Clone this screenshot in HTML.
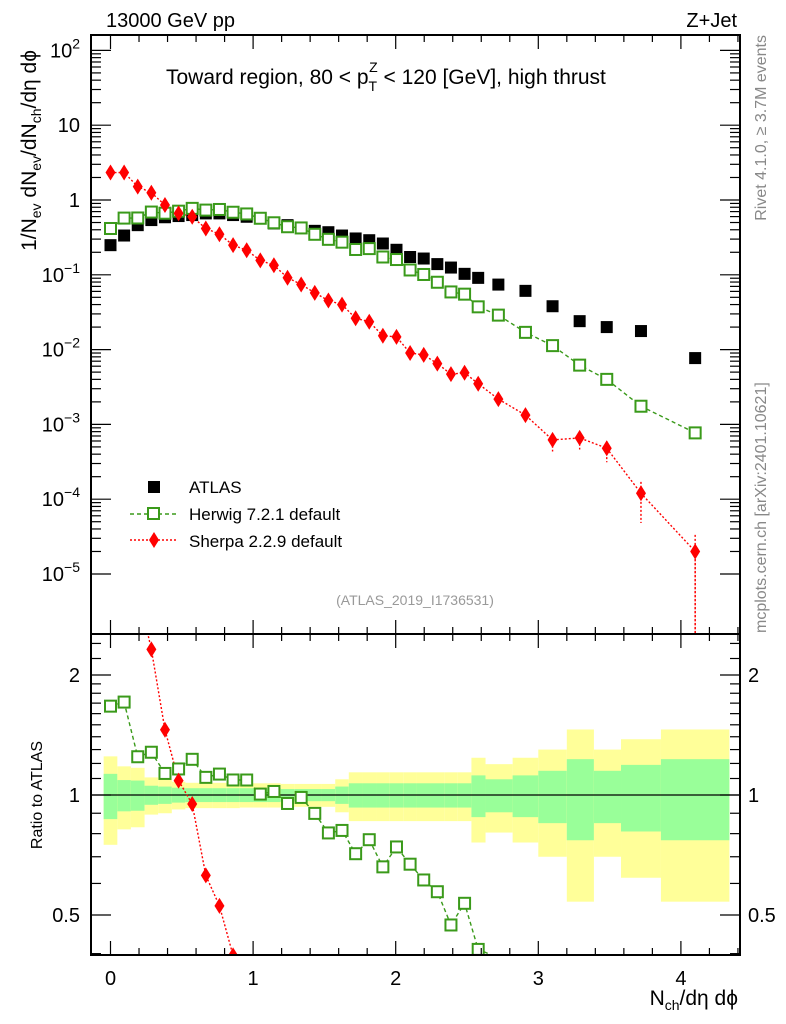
<!DOCTYPE html>
<html><head><meta charset="utf-8"><style>
html,body{margin:0;padding:0;background:#fff;width:786px;height:1024px;overflow:hidden;}
svg{display:block;font-family:"Liberation Sans",sans-serif;}
</style></head><body>
<svg id="chart" width="786" height="1024" viewBox="0 0 786 1024" xmlns="http://www.w3.org/2000/svg">
<rect width="786" height="1024" fill="#fff"/>
<g id="bands"></g>
<g id="grid"></g>
<g id="series"></g>
<g id="axes"></g>
<text x="106" y="27" font-size="20">13000 GeV pp</text>
<text x="737" y="27" font-size="20" text-anchor="end">Z+Jet</text>
<text x="166" y="84" font-size="21">Toward region, 80 &lt; p<tspan font-size="14" dy="7">T</tspan><tspan font-size="14" dx="-8" dy="-19">Z</tspan><tspan dy="12"> &lt; 120 [GeV], high thrust</tspan></text>
<text transform="translate(36,50) rotate(-90)" font-size="21" text-anchor="end">1/N<tspan font-size="14" dy="5">ev</tspan><tspan dy="-5"> dN</tspan><tspan font-size="14" dy="5">ev</tspan><tspan dy="-5">/dN</tspan><tspan font-size="14" dy="5">ch</tspan><tspan dy="-5">/dη dϕ</tspan></text>
<text transform="translate(42,795) rotate(-90)" font-size="16" text-anchor="middle">Ratio to ATLAS</text>
<text x="738" y="1005" font-size="21" text-anchor="end">N<tspan font-size="14" dy="5">ch</tspan><tspan dy="-5">/dη dϕ</tspan></text>
<text transform="translate(766,35) rotate(-90)" font-size="16" fill="#888" text-anchor="end">Rivet 4.1.0, ≥ 3.7M events</text>
<text transform="translate(766,633) rotate(-90)" font-size="16" fill="#888">mcplots.cern.ch [arXiv:2401.10621]</text>
<text x="415" y="605" font-size="14" fill="#999" text-anchor="middle">(ATLAS_2019_I1736531)</text>
<g>
<rect x="148" y="481" width="12" height="12" fill="#000"/>
<text x="189" y="493" font-size="17">ATLAS</text>
<line x1="130" y1="514" x2="177" y2="514" stroke="#3a9a1a" stroke-width="1.5" stroke-dasharray="4,3"/>
<rect x="148" y="508" width="11" height="11" fill="#fff" stroke="#3a9a1a" stroke-width="2"/>
<text x="189" y="520" font-size="17">Herwig 7.2.1 default</text>
<line x1="130" y1="540" x2="177" y2="540" stroke="#f00" stroke-width="1.5" stroke-dasharray="2,2"/>
<polygon points="154,532 159,540 154,548 149,540" fill="#f00"/>
<text x="189" y="547" font-size="17">Sherpa 2.2.9 default</text>
</g>
</svg>
<script>
const xCenters=[0,0.0955,0.191,0.2865,0.382,0.4775,0.573,0.6685,0.764,0.8595,0.955,1.0505,1.146,1.2415,1.337,1.4325,1.528,1.6235,1.719,1.8145,1.91,2.0055,2.101,2.1965,2.292,2.3875,2.483,2.5785,2.72,2.91,3.10,3.29,3.48,3.72,4.10];
const xEdges=[-0.048,0.048,0.143,0.239,0.334,0.43,0.525,0.621,0.716,0.812,0.907,1.003,1.098,1.194,1.289,1.385,1.48,1.576,1.671,1.767,1.862,1.958,2.053,2.149,2.244,2.34,2.435,2.531,2.63,2.82,3.0,3.2,3.39,3.58,3.86,4.34];
const atlas=[0.249,0.335,0.461,0.539,0.588,0.610,0.629,0.662,0.662,0.629,0.597,0.567,0.486,0.461,0.429,0.387,0.371,0.335,0.306,0.290,0.262,0.216,0.173,0.165,0.139,0.125,0.103,0.091,0.074,0.061,0.038,0.024,0.020,0.0177,0.0077];
const herwig=[0.416,0.573,0.575,0.690,0.666,0.709,0.773,0.733,0.747,0.686,0.651,0.570,0.496,0.439,0.423,0.348,0.298,0.273,0.218,0.224,0.173,0.160,0.116,0.101,0.0795,0.059,0.0551,0.0373,0.0289,0.0170,0.0113,0.0062,0.0040,0.00175,0.00077];
const sherpa=[2.33,2.33,1.51,1.25,0.857,0.663,0.597,0.416,0.349,0.249,0.213,0.156,0.134,0.0914,0.0743,0.0574,0.0453,0.040,0.0262,0.0236,0.0153,0.0148,0.0090,0.0085,0.0065,0.0047,0.0049,0.0035,0.00218,0.00133,0.00062,0.00066,0.00048,0.00012,0.000020];
const sherpaErr=[0,0,0,0,0,0,0,0,0,0,0,0,0,0,0,0,0,0,0,0,0,0,0,0,0,0,0,0.1,0.12,0.15,0.3,0.3,0.35,0.6,0.95];
const errStat=[0.13,0.09,0.087,0.055,0.05,0.043,0.04,0.04,0.04,0.04,0.04,0.04,0.04,0.035,0.035,0.035,0.035,0.05,0.07,0.07,0.07,0.07,0.07,0.07,0.07,0.07,0.07,0.12,0.095,0.12,0.15,0.23,0.15,0.19,0.23];
const errTot=[0.25,0.18,0.17,0.107,0.1,0.08,0.073,0.073,0.073,0.073,0.07,0.07,0.07,0.066,0.066,0.066,0.066,0.095,0.14,0.14,0.14,0.14,0.14,0.14,0.14,0.14,0.14,0.24,0.195,0.24,0.30,0.46,0.30,0.38,0.46];
const xTicks=[0,1,2,3,4];
const mainDecades=[-5,-4,-3,-2,-1,0,1,2];
const ratioTicks=[0.5,1,2];

const NS="http://www.w3.org/2000/svg";
const L=91,R=740,MT=35,MB=634,RT=634,RB=955;
const X=v=>110.5+142.6*v;
const Y=v=>200-74.8*Math.log10(v);
const YR=r=>795-120*Math.log2(r);
const RMIN=Math.pow(2,-(RB-795)/120),RMAX=Math.pow(2,(795-RT)/120);
const VMIN=Math.pow(10,-(MB-200)/74.8);
function mk(parent,tag,attrs){const e=document.createElementNS(NS,tag);for(const k in attrs)e.setAttribute(k,attrs[k]);document.getElementById(parent).appendChild(e);return e;}
const GREEN="#3a9a1a";

for(let i=0;i<atlas.length;i++){
 const x1=Math.max(X(xEdges[i]),L),x2=X(xEdges[i+1]);
 let b=mk('bands','rect',{x:x1,y:YR(1+errTot[i]),width:x2-x1,height:YR(Math.max(1-errTot[i],RMIN))-YR(1+errTot[i]),fill:'#ffff99'});
 
 
 let g=mk('bands','rect',{x:x1,y:YR(1+errStat[i]),width:x2-x1,height:YR(1-errStat[i])-YR(1+errStat[i]),fill:'#99ff99'});
 
 
}
let one=mk('bands','line',{x1:L,x2:R,y1:YR(1),y2:YR(1),stroke:'#000','stroke-width':1.2});



function poly(pts,color,dash,name){
 const p=mk('series','polyline',{points:pts.map(q=>q.join(',')).join(' '),fill:'none',stroke:color,'stroke-width':1.4,'stroke-dasharray':dash});
 
 
}
poly(herwig.map((v,i)=>[X(xCenters[i]),Y(v)]),GREEN,'4,3','herwig-line');
poly(sherpa.map((v,i)=>[X(xCenters[i]),Math.min(Y(v),MB)]).concat([[X(4.10),MB]]),'#f00','2,2','sherpa-line');
const defs=document.createElementNS(NS,'defs');defs.innerHTML='<clipPath id="rc"><rect x="91" y="634" width="649" height="321"/></clipPath>';document.getElementById('chart').appendChild(defs);
const rg=mk('series','g',{'clip-path':'url(#rc)'});rg.id='rgrp';


function rpoly(pts,color,dash,name){
 const p=mk('rgrp','polyline',{points:pts.map(q=>q.join(',')).join(' '),fill:'none',stroke:color,'stroke-width':1.4,'stroke-dasharray':dash});
 
 
}
rpoly(herwig.map((v,i)=>[X(xCenters[i]),YR(v/atlas[i])]),GREEN,'4,3','herwig-ratio-line');
rpoly(sherpa.map((v,i)=>[X(xCenters[i]),YR(v/atlas[i])]),'#f00','2,2','sherpa-ratio-line');

for(let i=0;i<atlas.length;i++){
 const cx=X(xCenters[i]);
 let a=mk('series','rect',{x:cx-6,y:Y(atlas[i])-6,width:12,height:12,fill:'#000'});
 
 
 let h=mk('series','rect',{x:cx-5.5,y:Y(herwig[i])-5.5,width:11,height:11,fill:'#fff',stroke:GREEN,'stroke-width':2});
 
 
 const sy=Y(sherpa[i]);
 if(sherpaErr[i]>0){
  const lo=Math.min(Y(Math.max(sherpa[i]*(1-sherpaErr[i]),VMIN)),MB),hi=Y(sherpa[i]*(1+sherpaErr[i]*0.7));
  let e=mk('series','line',{x1:cx,x2:cx,y1:hi,y2:lo,stroke:'#f00','stroke-width':1.4,'stroke-dasharray':'2,2'});
  
  
 }
 let s=mk('series','polygon',{points:`${cx},${sy-8} ${cx+5},${sy} ${cx},${sy+8} ${cx-5},${sy}`,fill:'#f00'});
 
 
 const rh=herwig[i]/atlas[i];
 if(rh>RMIN&&rh<RMAX){
  let q=mk('rgrp','rect',{x:cx-5.5,y:YR(rh)-5.5,width:11,height:11,fill:'#fff',stroke:GREEN,'stroke-width':2});
  
  
 }
 const rs=sherpa[i]/atlas[i];
 if(rs>RMIN*0.95&&rs<RMAX*1.02){
  const ry=YR(rs);
  let q=mk('rgrp','polygon',{points:`${cx},${ry-8} ${cx+5},${ry} ${cx},${ry+8} ${cx-5},${ry}`,fill:'#f00'});
  
  
 }
}

function frame(y1,y2,name){let f=mk('axes','rect',{x:L,y:y1,width:R-L,height:y2-y1,fill:'none',stroke:'#000','stroke-width':2});
 
 }
frame(MT,MB,'main-plot-frame');frame(RT,RB,'ratio-plot-frame');
function tick(x1,y1,x2,y2){mk('axes','line',{x1,y1,x2,y2,stroke:'#000','stroke-width':1.2});}
for(let k=-1;k<=44;k++){
 const vv=k/10;const x=X(vv);if(x<L||x>R)continue;
 const maj=k%10===0;
 if(!maj && k%2!==0) continue;
 const len=maj?14:7;
 tick(x,MB,x,MB-len);tick(x,MT,x,MT+len);tick(x,RB,x,RB-len);tick(x,RT,x,RT+len);
}
xTicks.forEach(v=>{let t=mk('axes','text',{x:X(v),y:985,'font-size':20,'text-anchor':'middle'});t.textContent=v;
 
 });
mainDecades.forEach(d=>{
 for(let m=1;m<10;m++){const y=Y(m*Math.pow(10,d));if(y<MT||y>MB)continue;const len=m==1?20:10;tick(L,y,L+len,y);tick(R,y,R-len,y);}
 const y=Y(Math.pow(10,d));if(y<MT||y>MB)return;
 let t=mk('axes','text',{x:80,y:y+7,'font-size':20,'text-anchor':'end'});
 
 
 if(d==0)t.textContent='1';else if(d==1)t.textContent='10';else t.innerHTML='10<tspan font-size="14" dy="-9">'+(d<0?'−'+(-d):d)+'</tspan>';
});
[0.4,0.5,0.6,0.7,0.8,0.9,1,1.1,1.2,1.3,1.4,1.5,1.6,1.7,1.8,1.9,2,2.2,2.4].forEach(r=>{const y=YR(r);if(y<RT||y>RB)return;const maj=ratioTicks.includes(r);const len=maj?20:10;tick(L,y,L+len,y);tick(R,y,R-len,y);});
ratioTicks.forEach(r=>{const y=YR(r);
 let t=mk('axes','text',{x:80,y:y+7,'font-size':20,'text-anchor':'end'});t.textContent=r;
 
 
 let t2=mk('axes','text',{x:748,y:y+7,'font-size':20});t2.textContent=r;
 
 });
</script>
</body></html>
